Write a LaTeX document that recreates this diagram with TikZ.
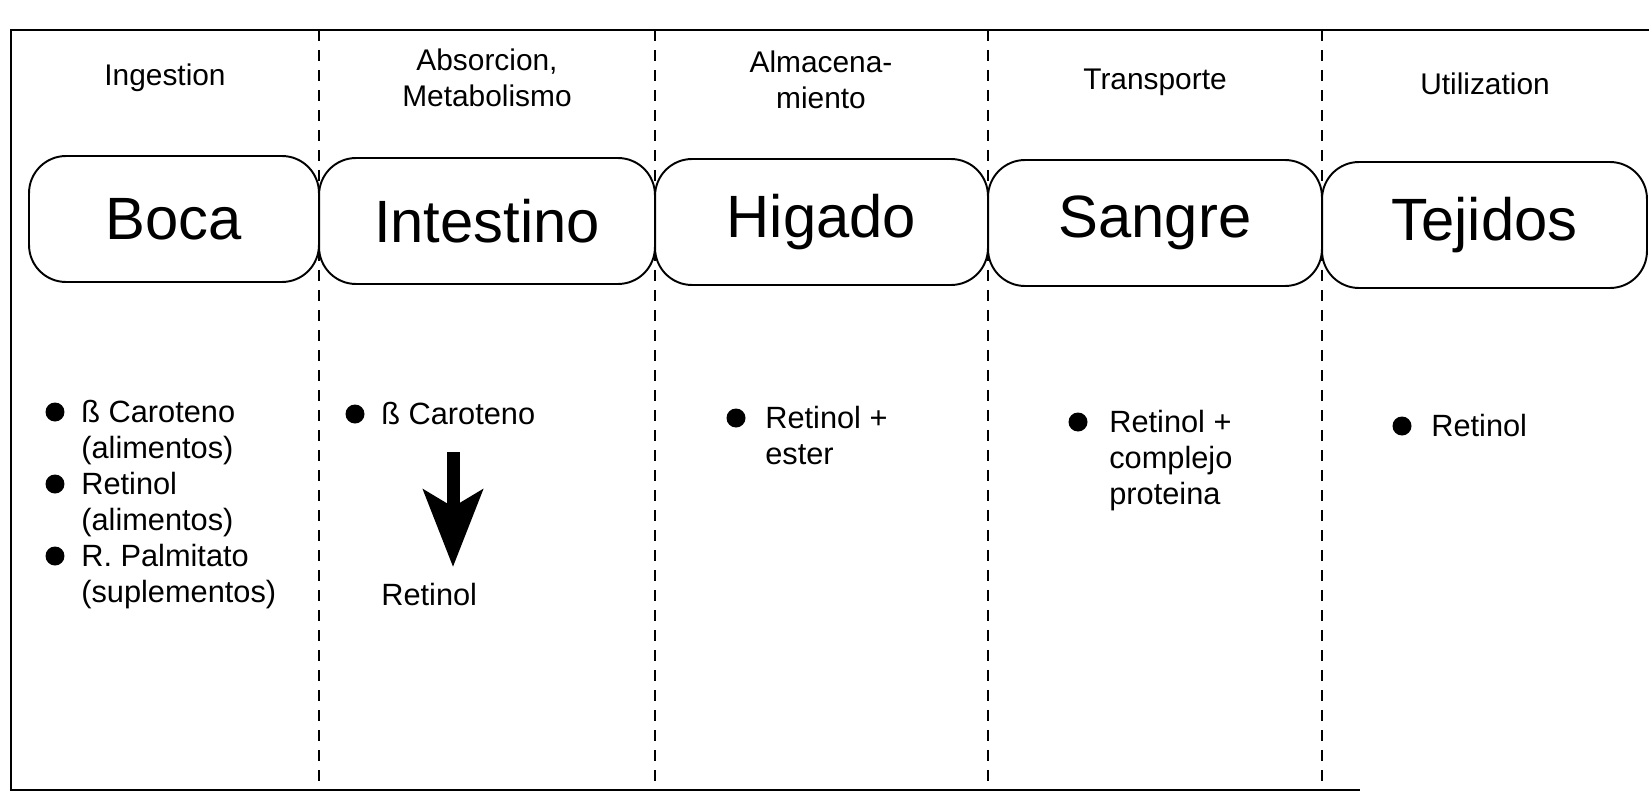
\documentclass[tikz,border=0pt]{standalone}
\usepackage{fontspec}
\setmainfont{Liberation Sans}
\usetikzlibrary{arrows.meta}
\tikzset{
  marco/.style={line width=1.5pt},
  divisor/.style={line width=1.3pt, dash pattern=on 0.22cm off 0.18cm},
  organo/.style={draw, rounded corners=0.74cm, line width=1.1pt, minimum height=2.52cm,
    inner sep=0pt, font=\fontsize{34}{40}\selectfont},
  fase/.style={align=center, inner sep=0pt, font=\fontsize{17}{20.5}\selectfont},
  item/.style={anchor=north west, align=left, inner sep=0pt, font=\fontsize{17.5}{20.5}\selectfont},
  punto/.style={circle, fill=black, inner sep=0pt, minimum size=0.38cm},
  flecha/.style={line width=0.26cm, -{Stealth[length=1.54cm, width=1.18cm, inset=0.34cm]}}
}
\begin{document}
\begin{tikzpicture}[x=0.02cm, y=-0.02cm]
  \useasboundingbox (0,0) rectangle (1649,801);
  % marco y columnas
  \draw[marco] (1649,30) -- (11,30) -- (11,790) -- (1360,790);
  \foreach \x in {319,655,988,1322}
    \draw[divisor] (\x,30) -- (\x,790);
  % fases
  \node[fase] (ingestion) at (165,78) {Ingestion};
  \node[fase] (absorcion) at (487,78) {Absorcion,\\Metabolismo};
  \node[fase] (almacen) at (821,80) {Almacena-\\miento};
  \node[fase] (transporte) at (1155,82) {Transporte};
  \node[fase] (utilizacion) at (1485,84) {Utilization};
  % organos
  \node[organo, minimum width=5.8cm] (boca) at (174,219) {Boca};
  \node[organo, minimum width=6.72cm] (intestino) at (487,221) {Intestino};
  \node[organo, minimum width=6.66cm] (higado) at (821.5,222) {Higado};
  \node[organo, minimum width=6.68cm] (sangre) at (1155,223) {Sangre};
  \node[organo, minimum width=6.5cm] (tejidos) at (1484.5,225) {Tejidos};
  % compuestos
  \node[punto] (p1) at (55,412) {};
  \node[punto] (p2) at (55,484) {};
  \node[punto] (p3) at (55,556) {};
  \node[item] (dieta) at (81,400) {ß Caroteno\\(alimentos)\\Retinol\\(alimentos)\\R. Palmitato\\(suplementos)};
  \node[punto] (p4) at (355,414) {};
  \node[item] (caroteno) at (381,402) {ß Caroteno};
  \node[item] (retinolA) at (381,583) {Retinol};
  \coordinate (flechaA) at (453,452);
  \coordinate (flechaB) at (453,567);
  \draw[flecha] (flechaA) -- (flechaB);
  \node[punto] (p5) at (736,418) {};
  \node[item] (ester) at (765,406) {Retinol +\\ester};
  \node[punto] (p6) at (1078,422) {};
  \node[item] (complejo) at (1109,410) {Retinol +\\complejo\\proteina};
  \node[punto] (p7) at (1402,426) {};
  \node[item] (retinolB) at (1431,414) {Retinol};
\end{tikzpicture}
\end{document}
